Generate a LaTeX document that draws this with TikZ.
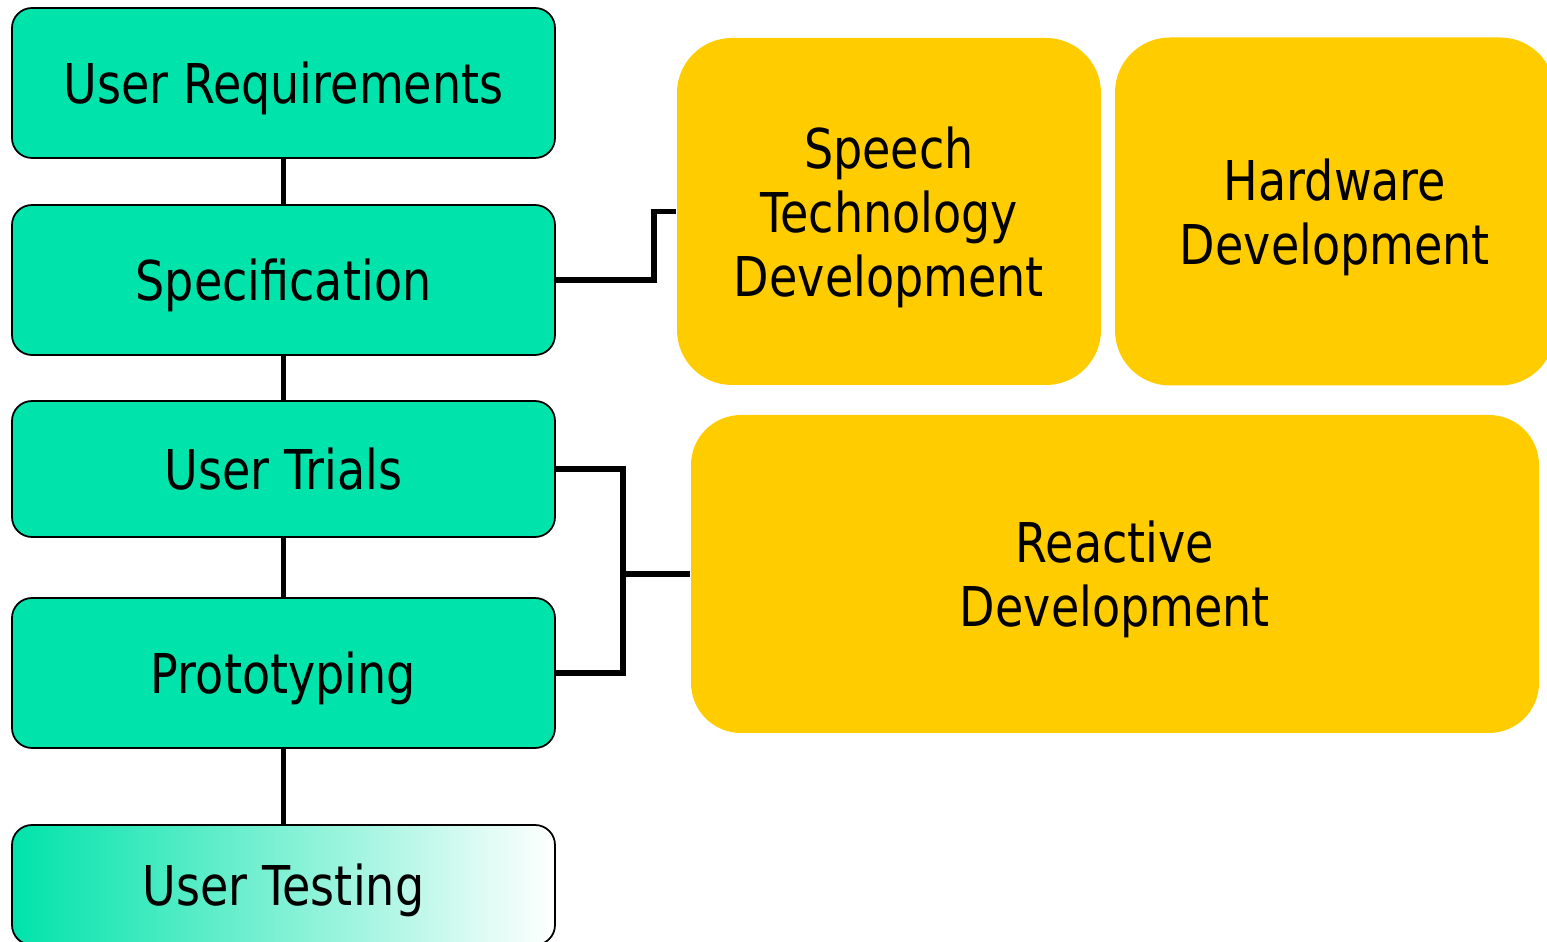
\documentclass[tikz,border=0pt]{standalone}
\usepackage{fontspec}
\setmainfont{DejaVu Sans}[FakeStretch=0.84]
\definecolor{stagegreen}{RGB}{0,227,170}
\definecolor{devyellow}{RGB}{255,204,0}
\tikzset{
	stage/.style={draw=black, line width=0.5pt, fill=stagegreen, rounded corners=0.2cm,
		minimum width=5.43cm, minimum height=1.5cm, inner sep=0pt, text depth=0pt},
	devbox/.style={fill=devyellow, rounded corners=0.55cm, align=center, inner sep=0pt, text depth=0pt},
	link/.style={line width=1.6pt}
}

\begin{document}
\begin{tikzpicture}[font=\fontsize{15.6pt}{18.2pt}\selectfont]
		\useasboundingbox (0,0) rectangle (15.47,-9.42);
		% stages of the design cycle
		\node[stage] (req) at (2.835,-0.83) {User Requirements};
		\node[stage] (spec) at (2.835,-2.80) {Specification};
		\node[stage, minimum height=1.36cm] (trials) at (2.835,-4.69) {User Trials};
		\node[stage] (proto) at (2.835,-6.73) {Prototyping};
		\node[stage, minimum height=1.2cm, fill=none, left color=stagegreen, right color=white] (testing) at (2.835,-8.85) {User Testing};
		% development work
		\node[devbox, minimum width=4.24cm, minimum height=3.47cm] (speech) at (8.89,-2.115) {Speech\\Technology\\Development};
		\node[devbox, minimum width=4.40cm, minimum height=3.48cm] (hardware) at (13.35,-2.115) {Hardware\\Development};
		\node[devbox, rounded corners=0.5cm, minimum width=8.48cm, minimum height=3.18cm] (reactive) at (11.15,-5.74) {Reactive\\Development};
		\coordinate (join) at (6.23,-5.74);
		\draw[link] (req) -- (spec) (spec) -- (trials) (trials) -- (proto) (proto) -- (testing);
		\draw[link] (spec.east) -- ++(0.98,0) |- (speech.west);
		\draw[link] (trials.east) -| (join) (proto.east) -| (join) -- (reactive.west);
	\end{tikzpicture}
\end{document}
